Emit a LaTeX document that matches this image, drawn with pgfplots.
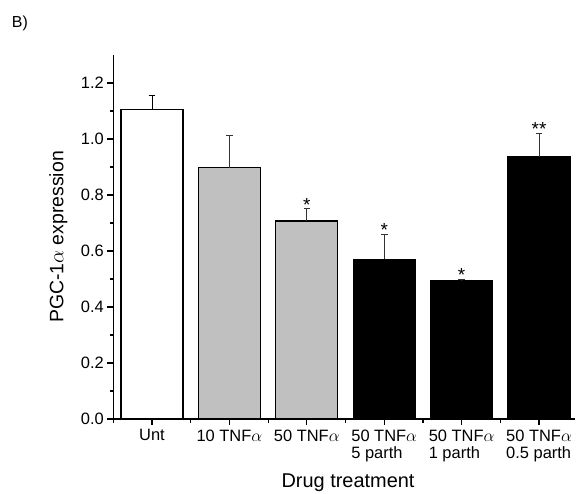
\documentclass[border=0pt]{standalone}
\usepackage{pgfplots}
\pgfplotsset{compat=1.18}
\usepackage{fontspec}
\setmainfont{Liberation Sans}
\definecolor{barGray}{RGB}{192,192,192}
\begin{document}
\begin{tikzpicture}
\path[use as bounding box] (-113.3bp,-75bp) rectangle (462.7bp,419bp);
\begin{axis}[
  at={(0,0)}, anchor=south west,
  scale only axis, width=462.1bp, height=364bp,
  xmin=0.5, xmax=6.47, ymin=0, ymax=1.3,
  axis lines*=left,
  axis line style={line width=1.3pt},
  tick style={line width=1.2pt, black},
  tick align=outside,
  major tick length=6bp, minor tick length=3.5bp,
  xtick={1,2,3,4,5,6},
  minor xtick={0.5,1.5,2.5,3.5,4.5,5.5},
  xticklabels={Unt, 10 TNF$\alpha$, 50 TNF$\alpha$, {50 TNF$\alpha$\\5 parth}, {50 TNF$\alpha$\\1 parth}, {50 TNF$\alpha$\\0.5 parth}},
  xticklabel style={align=left, font=\fontsize{16.5}{17.5}\selectfont, anchor=north, yshift=-1bp},
  ytick={0,0.2,0.4,0.6,0.8,1.0,1.2},
  minor ytick={0.1,0.3,0.5,0.7,0.9,1.1},
  yticklabel style={/pgf/number format/.cd, fixed, fixed zerofill, precision=1, /tikz/.cd, font=\fontsize{16.5}{18}\selectfont},
  /pgf/number format/assume math mode=true,
  ylabel={PGC-1$\alpha$ expression},
  ylabel style={at={(axis description cs:-0.119,0.5)}, anchor=center, font=\fontsize{19.5}{22}\selectfont},
  xlabel={Drug treatment},
  xlabel style={at={(axis description cs:0.508,-0.176)}, anchor=center, font=\fontsize{20}{22}\selectfont},
  ybar, bar width=62bp, bar shift=0pt,
  clip=false,
]
\addplot[fill=white, draw=black, line width=1.2pt,
  error bars/.cd, y dir=plus, y explicit, error mark options={rotate=90, mark size=3.3bp, line width=0.9pt, black}, error bar style={line width=0.9pt, black}]
  coordinates {(1,1.106) +- (0,0.048)};
\addplot[fill=barGray, draw=black, line width=1.2pt,
  error bars/.cd, y dir=plus, y explicit, error mark options={rotate=90, mark size=3.3bp, line width=0.9pt, black!80}, error bar style={line width=0.9pt, black!80}]
  coordinates {(2,0.897) +- (0,0.117) (3,0.707) +- (0,0.045)};
\addplot[fill=black, draw=black, line width=1.2pt,
  error bars/.cd, y dir=plus, y explicit, error mark options={rotate=90, mark size=3.3bp, line width=0.9pt, black!80}, error bar style={line width=0.9pt, black!80}]
  coordinates {(4,0.571) +- (0,0.089) (5,0.493) +- (0,0.007) (6,0.936) +- (0,0.085)};
\addplot[draw=none, fill=none, forget plot, ybar=0pt, bar width=0pt,
  nodes near coords={\pgfplotspointmeta},
  point meta=explicit symbolic,
  every node near coord/.append style={anchor=south, inner sep=0pt, yshift=-3bp, font=\fontsize{19}{20}\selectfont}]
  coordinates {(3,0.752) [*] (4,0.660) [*] (5,0.500) [*] (6,1.021) [**]};
\end{axis}
\node[anchor=base west, inner sep=0pt, font=\fontsize{16}{18}\selectfont] at (-101.5bp,391bp) {B)};
\end{tikzpicture}
\end{document}
